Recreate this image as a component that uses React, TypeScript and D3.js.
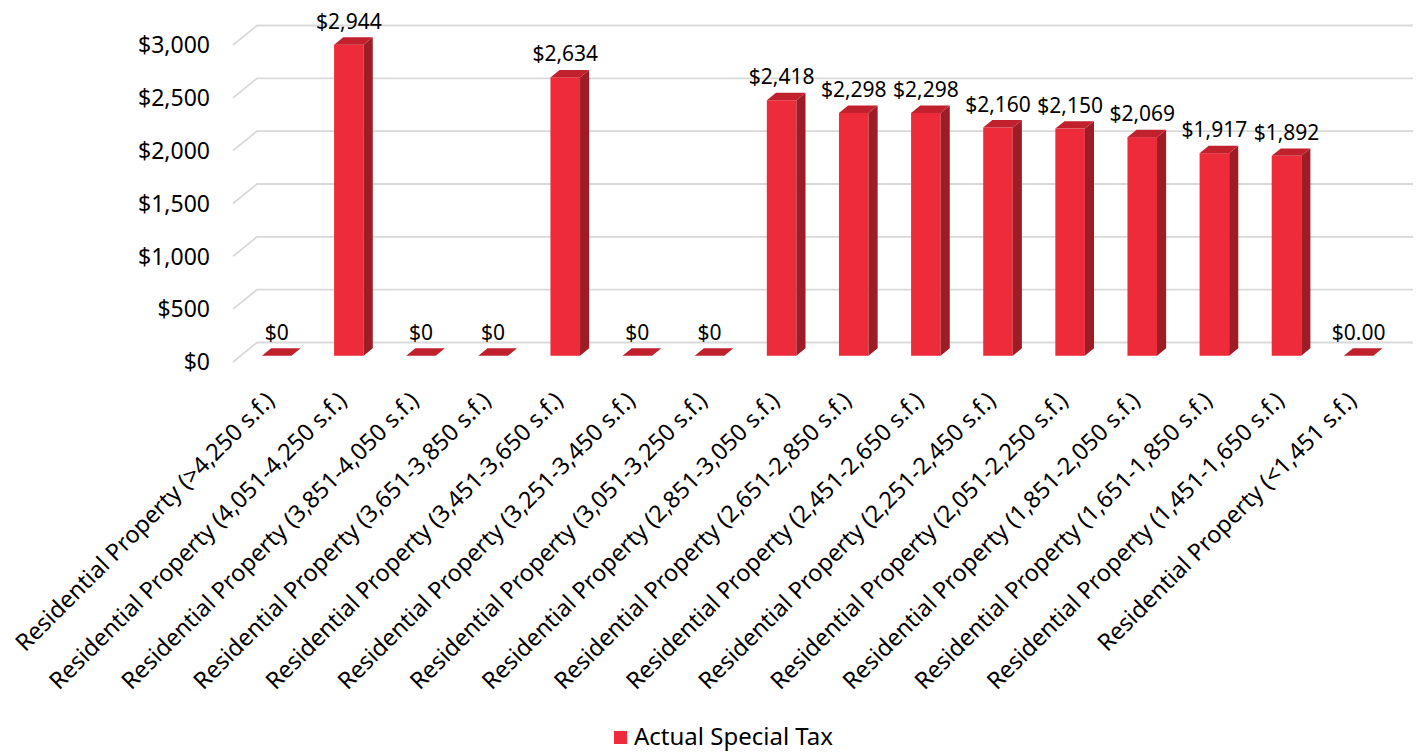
import React from "react";
import * as d3 from "d3";

const categories = [
  "Residential Property (>4,250 s.f.)",
  "Residential Property (4,051-4,250 s.f.)",
  "Residential Property (3,851-4,050 s.f.)",
  "Residential Property (3,651-3,850 s.f.)",
  "Residential Property (3,451-3,650 s.f.)",
  "Residential Property (3,251-3,450 s.f.)",
  "Residential Property (3,051-3,250 s.f.)",
  "Residential Property (2,851-3,050 s.f.)",
  "Residential Property (2,651-2,850 s.f.)",
  "Residential Property (2,451-2,650 s.f.)",
  "Residential Property (2,251-2,450 s.f.)",
  "Residential Property (2,051-2,250 s.f.)",
  "Residential Property (1,851-2,050 s.f.)",
  "Residential Property (1,651-1,850 s.f.)",
  "Residential Property (1,451-1,650 s.f.)",
  "Residential Property (<1,451 s.f.)",
];
const values = [0, 2944, 0, 0, 2634, 0, 0, 2418, 2298, 2298, 2160, 2150, 2069, 1917, 1892, 0];
const valueLabels = [
  "$0", "$2,944", "$0", "$0", "$2,634", "$0", "$0", "$2,418", "$2,298", "$2,298",
  "$2,160", "$2,150", "$2,069", "$1,917", "$1,892", "$0.00",
];
const yTicks = [0, 500, 1000, 1500, 2000, 2500, 3000];
const seriesName = "Actual Special Tax";

const W = 1423;
const H = 752;
const FONT = "'Noto Sans', 'Open Sans', sans-serif";

export default function App() {
  const x0 = 233;
  const x1 = 1387;
  const yBase = 362;
  const yTop = 45;
  const dx = 24;
  const dy = -19.5;
  const d0 = 0.32;
  const d1 = 0.7;

  const x = d3
    .scaleBand<string>()
    .domain(categories)
    .range([x0, x1])
    .paddingInner(0.59)
    .paddingOuter(0.295);
  const y = d3.scaleLinear().domain([0, 3000]).range([yBase, yTop]);
  const fmt = d3.format("$,");
  const w = x.bandwidth();
  const ddx = dx * (d1 - d0);
  const ddy = dy * (d1 - d0);

  const front = "#ED2B3B";
  const side = "#9E1C26";
  const top = "#C1212D";

  return (
    <svg
      width={W}
      height={H}
      style={{ position: "absolute", left: 0, top: 0, background: "#fff" }}
      fontFamily={FONT}
    >
      {yTicks.map((t) => {
        const yy = y(t);
        const p = d3.path();
        p.moveTo(x0, yy);
        p.lineTo(x0 + dx, yy + dy);
        p.lineTo(x1 + dx + 2, yy + dy);
        return (
          <path key={t} d={p.toString()} fill="none" stroke="#D9D9D9" strokeWidth={1.8} />
        );
      })}
      {yTicks.map((t) => (
        <text
          key={"yl" + t}
          x={210}
          y={y(t)}
          dy="0.36em"
          textAnchor="end"
          fontSize={23}
          fill="#000"
        >
          {fmt(t)}
        </text>
      ))}
      {categories.map((c, i) => {
        const v = values[i];
        const fx = (x(c) as number) + dx * d0;
        const fy0 = y(0) + dy * d0;
        const fy1 = y(v) + dy * d0;
        const sidePts = [
          [fx + w, fy1],
          [fx + w + ddx, fy1 + ddy],
          [fx + w + ddx, fy0 + ddy],
          [fx + w, fy0],
        ];
        const topPts = [
          [fx, fy1],
          [fx + ddx, fy1 + ddy],
          [fx + w + ddx, fy1 + ddy],
          [fx + w, fy1],
        ];
        return (
          <g key={"b" + i}>
            {v > 0 && (
              <>
                <rect x={fx} y={fy1} width={w} height={fy0 - fy1} fill={front} />
                <polygon points={sidePts.map((p) => p.join(",")).join(" ")} fill={side} />
              </>
            )}
            <polygon points={topPts.map((p) => p.join(",")).join(" ")} fill={v > 0 ? top : "#C0202C"} />
          </g>
        );
      })}
      {categories.map((c, i) => {
        const fx = (x(c) as number) + dx * d0;
        const fy1 = y(values[i]) + dy * d0;
        return (
          <text
            key={"dl" + i}
            x={fx + w / 2}
            y={fy1 - 16}
            textAnchor="middle"
            fontSize={21}
            fill="#000"
          >
            {valueLabels[i]}
          </text>
        );
      })}
      {categories.map((c) => {
        const cx = (x(c) as number) + w / 2 + dx * d0;
        return (
          <text
            key={"xl" + c}
            transform={`translate(${cx - 1},${402}) rotate(-45)`}
            textAnchor="end"
            fontSize={23.5}
            fill="#000"
          >
            {c}
          </text>
        );
      })}
      <rect x={614} y={731} width={13} height={13} fill={front} />
      <text x={634} y={745} fontSize={24} fill="#000">
        {seriesName}
      </text>
    </svg>
  );
}
